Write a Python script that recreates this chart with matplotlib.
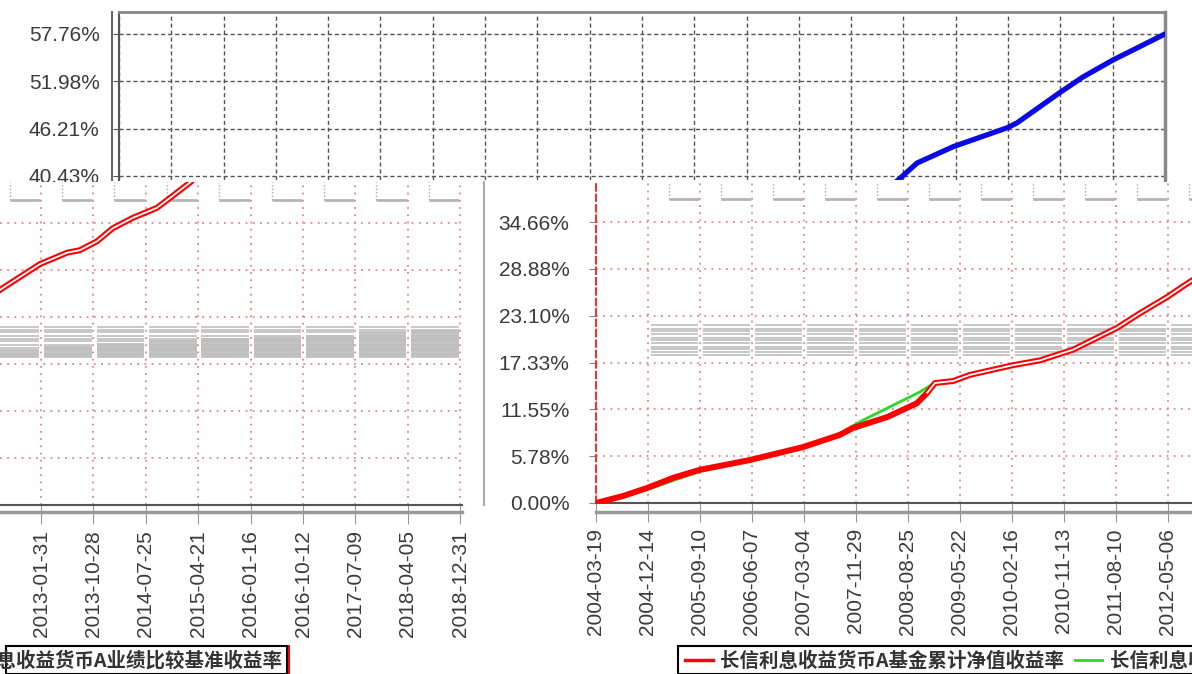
import matplotlib
matplotlib.use('Agg')
import numpy as np
import pandas as pd
import matplotlib.pyplot as plt
import matplotlib.dates as mdates
from matplotlib.lines import Line2D
from matplotlib.patches import Rectangle

plt.rcParams['font.family'] = ['Liberation Sans', 'DejaVu Sans']

W, H = 1192, 674   # output size in pixels

# x axis ticks: every 270 days from launch
tick_dates = ['2004-03-19', '2004-12-14', '2005-09-10', '2006-06-07', '2007-03-04',
              '2007-11-29', '2008-08-25', '2009-05-22', '2010-02-16', '2010-11-13',
              '2011-08-10', '2012-05-06', '2013-01-31', '2013-10-28', '2014-07-25',
              '2015-04-21', '2016-01-16', '2016-10-12', '2017-07-09', '2018-04-05',
              '2018-12-31']
y_ticks = [0.00, 5.78, 11.55, 17.33, 23.10, 28.88, 34.66, 40.43, 46.21, 51.98, 57.76]

# fund cumulative NAV return (%)
fund_dates = ['2004-03-19', '2004-08-06', '2004-12-09', '2005-04-23', '2005-09-10',
              '2006-05-27', '2007-02-27', '2007-09-06', '2007-11-13', '2008-05-09',
              '2008-10-10', '2008-12-03', '2009-01-12', '2009-04-17', '2009-07-12',
              '2010-02-21', '2010-07-12', '2010-12-29', '2011-08-15', '2011-12-12',
              '2012-05-01', '2012-08-03', '2013-01-26', '2013-06-15', '2013-08-19',
              '2013-11-16', '2014-02-05', '2014-05-21', '2014-09-20', '2014-12-12',
              '2015-03-09', '2015-06-30', '2016-01-03', '2016-10-07', '2016-11-27',
              '2017-07-06', '2017-11-02', '2018-04-08', '2018-07-19', '2018-12-31']
fund_return = [0.0, 0.86, 1.85, 3.1, 4.1,
               5.3, 6.9, 8.4, 9.25, 10.6,
               12.3, 13.6, 14.8, 15.05, 15.8,
               17.0, 17.6, 18.9, 21.6, 23.4,
               25.4, 26.9, 29.6, 31.0, 31.3,
               32.4, 34.0, 35.3, 36.5, 38.0,
               39.6, 42.0, 44.0, 46.3, 46.9,
               50.6, 52.5, 54.6, 55.8, 57.76]

# benchmark return (%), visible part only
bench_dates = ['2004-03-19', '2004-12-14', '2005-09-10', '2006-06-07', '2007-03-04',
               '2007-09-06', '2008-01-03', '2008-10-26', '2008-12-06', '2009-01-12']
bench_return = [0.0, 1.7, 3.9, 5.2, 6.9, 8.6, 10.2, 13.7, 14.3, 14.8]

# grey banding artefacts in the lower tiles
band_levels = [18.2, 18.6, 19.0, 19.3, 19.7, 20.1, 20.4, 20.8, 21.2, 21.5, 21.9]
band_fill = [19.0, 19.5, 19.9, 20.3, 20.5, 20.6, 20.9, 21.2, 21.5]

label_fund = '长信利息收益货币A基金累计净值收益率'
label_bench = '长信利息收益货币A业绩比较基准收益率'

tick_x = mdates.date2num(pd.to_datetime(tick_dates))
fund_x = mdates.date2num(pd.to_datetime(fund_dates))
bench_x = mdates.date2num(pd.to_datetime(bench_dates))
fund_return = np.array(fund_return)
STEP = 270.0

fig = plt.figure(figsize=(W / 100, H / 100), dpi=100)


def px_axes(left, top, right, bottom):
    return fig.add_axes([left / W, 1 - bottom / H, (right - left) / W, (bottom - top) / H])


def fig_line(xs, ys, **kw):
    fig.add_artist(Line2D([x / W for x in xs], [1 - y / H for y in ys],
                          transform=fig.transFigure, **kw))


def x_limits(left, right, anchor_px, tick_i, px_per_tick):
    per_day = px_per_tick / STEP
    a = tick_x[tick_i]
    return a + (left - anchor_px) / per_day, a + (right - anchor_px) / per_day


def y_limits(top, bottom, zero_px, px_per_pct):
    return (zero_px - bottom) / px_per_pct, (zero_px - top) / px_per_pct


def pct(v):
    return '%.2f%%' % v


# ---- top tile: upper part of the chart, line in blue
ax_top = px_axes(119, 12, 1165, 180)
ax_top.plot(fund_x, fund_return, color='#0a0ae6', lw=3.8, solid_capstyle='round', zorder=3)
ax_top.set_xticks(tick_x)
ax_top.tick_params(axis='x', length=0, labelbottom=False)
ax_top.set_yticks(y_ticks[7:])
ax_top.set_yticklabels([pct(v) for v in y_ticks[7:]])
ax_top.tick_params(axis='y', length=4, color='#555', pad=10, labelsize=15, labelcolor='#3a3a3a')
ax_top.grid(True, color='#555', ls=(0, (3, 2)), lw=1)
ax_top.set_xlim(*x_limits(119, 1165, 119, 0, 52.3))
ax_top.set_ylim(*y_limits(12, 180, 507, 8.19))
ax_top.spines['bottom'].set_visible(False)
ax_top.spines['top'].set_color('#888')
ax_top.spines['top'].set_linewidth(2)
ax_top.spines['right'].set_color('#888')
ax_top.spines['right'].set_linewidth(2.5)
ax_top.spines['left'].set_color('#555')
ax_top.spines['left'].set_linewidth(1.5)
fig_line([112, 112], [12, 180], color='#666', lw=1.5)


def lower_tile(ax, xlim, ylim, cells, outline_from):
    grid_kw = dict(color='#e98585', ls=(0, (1, 3)), lw=1.3, zorder=1)
    for x in tick_x:
        ax.axvline(x, **grid_kw)
    for y in y_ticks[1:7]:
        ax.axhline(y, **grid_kw)
    top = ylim[1]
    for i in cells:
        a, b = tick_x[i], tick_x[i + 1]
        ax.hlines(band_levels, a + 0.06 * STEP, b - 0.03 * STEP, color='#bdbdbd', lw=1.2, zorder=1)
        ax.vlines(a + 0.4 * STEP, 37.5, top, color='#aaa', lw=1, ls=(0, (1, 1.5)), zorder=1)
        ax.hlines(37.5, a + 0.4 * STEP, b - 0.02 * STEP, color='#b5b5b5', lw=2, zorder=1)
    ax.plot(bench_x, bench_return, color='#22dd22', lw=2, zorder=2)
    ax.plot(fund_x, fund_return, color='#ff0000', lw=4.3, zorder=3)
    m = fund_x >= mdates.date2num(pd.to_datetime(outline_from))
    ax.plot(fund_x[m], fund_return[m], color='white', lw=1.3, zorder=4)
    ax.set_xticks(tick_x)
    ax.set_xticklabels(tick_dates, rotation=90)
    ax.tick_params(axis='x', length=14, color='#999', pad=4, labelsize=15, labelcolor='#3a3a3a')
    ax.set_xlim(*xlim)
    ax.set_ylim(*ylim)
    ax.spines['top'].set_visible(False)
    ax.spines['right'].set_visible(False)
    ax.spines['bottom'].set_color('#555')
    ax.spines['bottom'].set_linestyle((0, (4, 1)))
    ax.spines['bottom'].set_linewidth(1.5)


# ---- lower left tile: right half of the chart
ax_l = px_axes(0, 182, 462, 505)
xl_l = x_limits(0, 462, 41, 12, 52.4)
yl_l = y_limits(182, 505, 505, 8.14)
for i, lvl in enumerate(band_fill):
    ax_l.fill_between([tick_x[11 + i] + 0.06 * STEP, tick_x[12 + i] - 0.03 * STEP],
                      band_levels[0], lvl, color='#c4c4c4', lw=0, zorder=1)
lower_tile(ax_l, xl_l, yl_l, range(11, 20), '2004-03-19')
ax_l.set_yticks([])
ax_l.set_ylim(*yl_l)
ax_l.spines['left'].set_visible(False)
fig_line([0, 462], [512, 512], color='#999', lw=2.5)

# ---- lower right tile: left half of the chart with the y axis
ax_r = px_axes(596, 182, 1192, 503)
yl_r = y_limits(182, 503, 503, 8.107)
lower_tile(ax_r, x_limits(596, 1192, 596, 0, 52.0), yl_r, range(1, 12), '2008-12-01')
ax_r.set_yticks(y_ticks[:7])
ax_r.set_yticklabels([pct(v) for v in y_ticks[:7]])
ax_r.set_ylim(*yl_r)
ax_r.tick_params(axis='y', length=5, color='#888', pad=14, labelsize=15, labelcolor='#3a3a3a')
ax_r.spines['left'].set_color('#ee3333')
ax_r.spines['left'].set_linestyle((0, (3, 2)))
ax_r.spines['left'].set_linewidth(1.5)
fig_line([596, 1192], [512, 512], color='#999', lw=2.5)
fig_line([484, 484], [182, 505], color='#aaa', lw=1.5)

# ---- legend fragments
leg_font = dict(family=['Noto Sans CJK SC', 'DejaVu Sans'], weight='bold', size=14, color='#333')
fig.add_artist(Rectangle((6 / W, 0), (281 / W), 1 - 646 / H, transform=fig.transFigure,
                         fill=False, ec='black', lw=1.5))
fig_line([289, 289], [646, 674], color='#ff0000', lw=1.5)
fig.text(282 / W, 1 - 661 / H, label_bench, ha='right', va='center', **leg_font)

fig.add_artist(Rectangle((678 / W, 0), (600 / W), 1 - 646 / H, transform=fig.transFigure,
                         fill=False, ec='black', lw=1.5))
fig_line([685, 713], [660, 660], color='#ff0000', lw=2.5)
fig.text(720 / W, 1 - 661 / H, label_fund, ha='left', va='center', **leg_font)
fig_line([1075, 1102], [660, 660], color='#22dd22', lw=2)
fig.text(1110 / W, 1 - 661 / H, label_bench, ha='left', va='center', **leg_font)

fig.savefig('out.png', dpi=100)
